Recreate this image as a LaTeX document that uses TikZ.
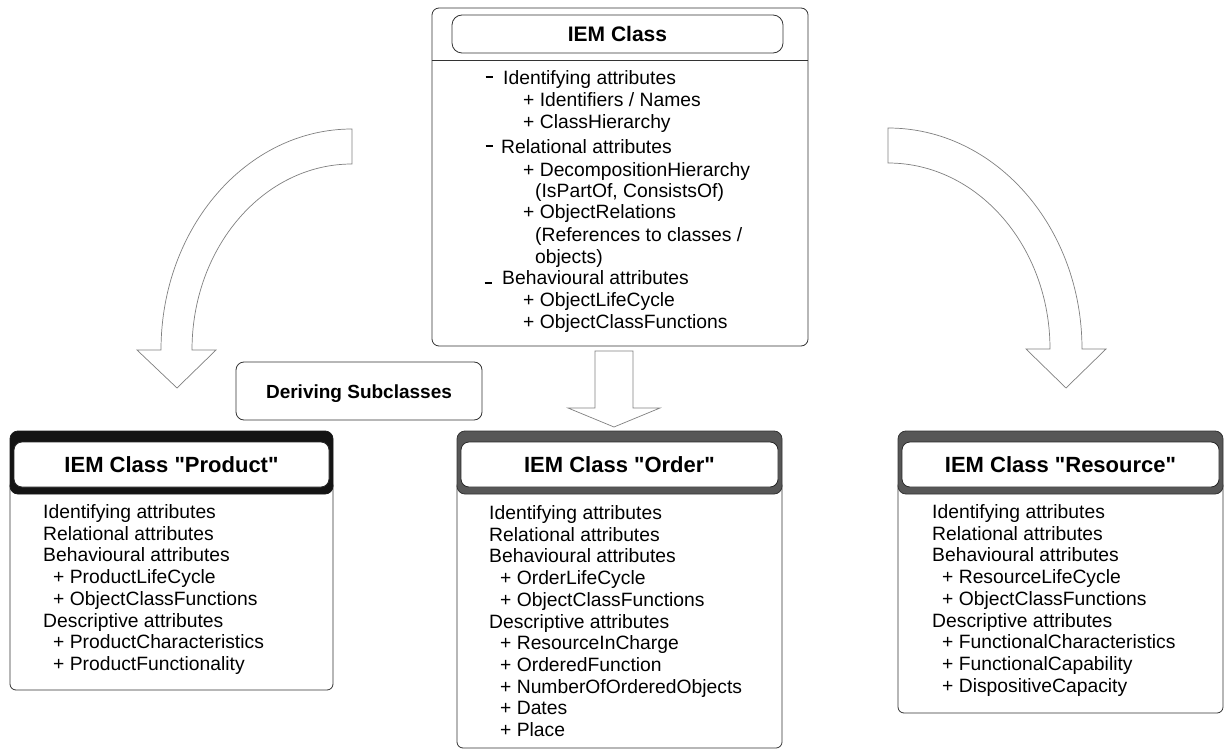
\documentclass[tikz,border=0pt]{standalone}
\usepackage{fontspec}
\setmainfont{Liberation Sans}
\begin{document}
\begin{tikzpicture}[x=1pt,y=-1pt,
  boxf/.style={draw=black!80, line width=0.8pt, fill=white, rounded corners=7pt, inner sep=0pt},
  bigarrow/.style={draw=black!50, line width=0.7pt, fill=white},
  body/.style={font=\fontsize{19.3}{22}\selectfont, anchor=base west, inner sep=0pt},
  ttl/.style={font=\bfseries\fontsize{22}{26}\selectfont, inner sep=0pt, anchor=center},
  dashmark/.style={inner sep=0pt, anchor=center},
  bandblack/.style={draw=black!90, fill=black!92, line width=0.8pt, rounded corners=8pt, inner sep=0pt},
  bandgray/.style={draw=black!80, fill=black!66, line width=0.8pt, rounded corners=8pt, inner sep=0pt},
  inner/.style={draw=black!85, fill=white, line width=0.8pt, rounded corners=8pt, inner sep=0pt},
  ]
\useasboundingbox[fill=white] (0,0) rectangle (1228,754);

% ---------- top class box ----------
\node[boxf, minimum width=376pt, minimum height=338pt] (top) at (620,177) {};
\coordinate (sepy) at (0,60);
\draw[draw=black!80, line width=0.8pt] (top.west |- sepy) -- (top.east |- sepy);
\node[boxf, rounded corners=10pt, minimum width=331pt, minimum height=38pt] (toptitle) at (617.5,34) {};
\node[ttl, font=\bfseries\fontsize{21}{25}\selectfont] (toptitletxt) at (617.5,34) {IEM Class};

\node[dashmark] (dA) at (489,77) {\rule{7pt}{2.6pt}};
\node[body] (t1) at (503,84.5) {Identifying attributes};
\node[body] (t2) at (523,106.5) {+ Identifiers / Names};
\node[body] (t3) at (523,128.5) {+ ClassHierarchy};
\node[dashmark] (dB) at (489,146) {\rule{7pt}{2.6pt}};
\node[body] (t4) at (501,153.5) {Relational attributes};
\node[body] (t5) at (523,176.5) {+ DecompositionHierarchy};
\node[body] (t6) at (535,197.5) {(IsPartOf, ConsistsOf)};
\node[body] (t7) at (523,218.5) {+ ObjectRelations};
\node[body] (t8) at (535,241.5) {(References to classes /};
\node[body] (t9) at (535,263.5) {objects)};
\node[dashmark] (dC) at (488,283) {\rule{7pt}{2.6pt}};
\node[body] (t10) at (502,284.5) {Behavioural attributes};
\node[body] (t11) at (523,306.5) {+ ObjectLifeCycle};
\node[body] (t12) at (523,328.5) {+ ObjectClassFunctions};

% ---------- deriving label ----------
\node[boxf, rounded corners=8pt, minimum width=246pt, minimum height=58pt] (derive) at (359,391) {};
\node[body, anchor=base, font=\bfseries\fontsize{19}{22}\selectfont] (derivetxt) at (359,398) {Deriving Subclasses};

% ---------- block arrows ----------
\draw[bigarrow] (352,129) arc[start angle=270, end angle=180, x radius=191, y radius=221]
  -- (137,350) -- (177,388) -- (216,350) -- (192,350)
  arc[start angle=180, end angle=270, x radius=160, y radius=186] -- cycle;
\draw[bigarrow] (888,128) arc[start angle=270, end angle=360, x radius=194, y radius=221]
  -- (1106,349) -- (1066,388) -- (1026,349) -- (1050,349)
  arc[start angle=0, end angle=-90, x radius=162, y radius=186] -- cycle;
\draw[bigarrow] (595,351) -- (633,351) -- (633,408) -- (660,408) -- (614,427)
  -- (568,408) -- (595,408) -- cycle;

% ---------- Product ----------
\node[boxf, rounded corners=6pt, minimum width=323pt, minimum height=210pt] (prodbody) at (171.5,585) {};
\node[bandblack, minimum width=323pt, minimum height=63pt] (prodband) at (171.5,462.5) {};
\node[inner, minimum width=315pt, minimum height=45pt] (prodinner) at (171.5,464.5) {};
\node[ttl] (prodtitle) at (171.5,465) {IEM Class \textquotedbl Product\textquotedbl};
\foreach \txt/\dx [count=\i from 0] in {Identifying attributes/0, Relational attributes/0,
  Behavioural attributes/0, + ProductLifeCycle/10, + ObjectClassFunctions/10,
  Descriptive attributes/0, + ProductCharacteristics/10, + ProductFunctionality/10}
  \node[body] (p\i) at ({43+\dx},{518.5+21.7*\i}) {\txt};

% ---------- Order ----------
\node[boxf, rounded corners=6pt, minimum width=325pt, minimum height=268pt] (ordbody) at (619.5,614) {};
\node[bandgray, minimum width=325pt, minimum height=63pt] (ordband) at (619.5,462.5) {};
\node[inner, minimum width=317pt, minimum height=45pt] (ordinner) at (619.5,464.5) {};
\node[ttl] (ordtitle) at (619.5,465) {IEM Class \textquotedbl Order\textquotedbl};
\foreach \txt/\dx [count=\i from 0] in {Identifying attributes/0, Relational attributes/0,
  Behavioural attributes/0, + OrderLifeCycle/11, + ObjectClassFunctions/11,
  Descriptive attributes/0, + ResourceInCharge/11, + OrderedFunction/11,
  + NumberOfOrderedObjects/11, + Dates/11, + Place/11}
  \node[body] (o\i) at ({489+\dx},{519.5+21.7*\i}) {\txt};

% ---------- Resource ----------
\node[boxf, rounded corners=6pt, minimum width=325pt, minimum height=233pt] (resbody) at (1060.5,596.5) {};
\node[bandgray, minimum width=325pt, minimum height=63pt] (resband) at (1060.5,462.5) {};
\node[inner, minimum width=317pt, minimum height=45pt] (resinner) at (1060.5,464.5) {};
\node[ttl] (restitle) at (1060.5,465) {IEM Class \textquotedbl Resource\textquotedbl};
\foreach \txt/\dx [count=\i from 0] in {Identifying attributes/0, Relational attributes/0,
  Behavioural attributes/0, + ResourceLifeCycle/10, + ObjectClassFunctions/10,
  Descriptive attributes/0, + FunctionalCharacteristics/10, + FunctionalCapability/10,
  + DispositiveCapacity/10}
  \node[body] (r\i) at ({932+\dx},{518.5+21.7*\i}) {\txt};
\end{tikzpicture}
\end{document}
